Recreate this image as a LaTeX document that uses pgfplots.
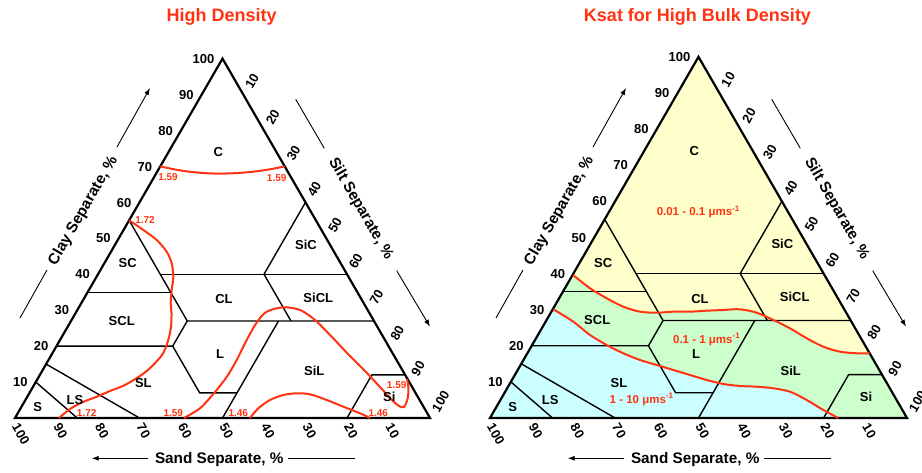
\documentclass[border=0pt]{standalone}
\usepackage{fontspec}
\setmainfont{Liberation Sans}
\usepackage{pgfplots}
\pgfplotsset{compat=1.18}
\usetikzlibrary{arrows.meta}
\definecolor{cred}{RGB}{255,51,17}
\definecolor{cyel}{RGB}{255,255,204}
\definecolor{cgrn}{RGB}{204,255,204}
\definecolor{ccya}{RGB}{204,255,255}
\pgfplotsset{
 /pgfplots/table/ternL/.style={x expr={15+4.15*(100-\thisrow{s}-0.5*\thisrow{c})},y expr={55+3.5940054*\thisrow{c}}},
 /pgfplots/table/ternR/.style={x expr={490+4.17*(100-\thisrow{s}-0.5*\thisrow{c})},y expr={55+3.6113259*\thisrow{c}}},
 /pgfplots/table/pxy/.style={y expr={473-\thisrow{y}}},
 bnd/.style={black,line width=1.4pt},
 outl/.style={black,line width=2.2pt,line join=miter},
 rc/.style={cred,line width=2pt,smooth},
}
\tikzset{
 num/.style={font=\fontsize{13}{15}\selectfont\bfseries,inner sep=0pt,text height=9.3pt,text depth=0pt},
 ttl/.style={font=\fontsize{15.3}{17}\selectfont\bfseries,inner sep=0pt,text height=11pt,text depth=0pt},
 rl/.style={font=\fontsize{10}{12}\selectfont\bfseries,text=cred,inner sep=0pt,text height=7.2pt,text depth=0pt},
 kl/.style={font=\fontsize{11.5}{13}\selectfont\bfseries,text=cred,inner sep=0pt,text height=8.3pt,text depth=0pt},
}
\newcommand{\soilclasses}[1]{%
\addplot[bnd] table[#1,row sep=\\]{s c\\90 10\\85 0\\};
\addplot[bnd] table[#1,row sep=\\]{s c\\85 15\\70 0\\};
\addplot[bnd] table[#1,row sep=\\]{s c\\80 20\\52 20\\52 7\\43 7\\};
\addplot[bnd] table[#1,row sep=\\]{s c\\50 0\\23 27\\};
\addplot[bnd] table[#1,row sep=\\]{s c\\52 20\\45 27\\0 27\\};
\addplot[bnd] table[#1,row sep=\\]{s c\\45 27\\45 55\\};
\addplot[bnd] table[#1,row sep=\\]{s c\\65 35\\45 35\\};
\addplot[bnd] table[#1,row sep=\\]{s c\\45 40\\0 40\\};
\addplot[bnd] table[#1,row sep=\\]{s c\\20 27\\20 40\\0 60\\};
\addplot[bnd] table[#1,row sep=\\]{s c\\20 0\\8 12\\0 12\\};
\addplot[outl] table[#1,row sep=\\]{s c\\100 0\\0 0\\0 100\\100 0\\0 0\\};
}
\newcommand{\decor}[2]{%
\foreach \p in {10,20,...,100}{
 \node[num,anchor=east] at ({#1+#2*\p/2-8},{55+#2*0.8660254*\p}) {\p};
 \node[num,anchor=west,rotate=60] at ({#1+#2*(50+\p/2)+5},{55+#2*0.8660254*(100-\p)+7}) {\p};
 \node[num,anchor=west,rotate=-60] at ({#1+#2*(100-\p)+0.5},{48.5}) {\p};
}
\foreach \t/\u/\v in {C/48.99/64.17,SC/27.16/37.28,SCL/25.71/23.45,CL/50.36/28.67,SiC/70.12/41.69,SiCL/73.08/28.99,L/49.40/15.42,SiL/72.12/11.40,SL/30.92/8.51,LS/14.46/4.34,S/5.47/2.58,Si/90.19/5.13}{
 \node[num] at ({#1+#2*\u},{55+#2*\v}) {\t};
}
}
\newcommand{\axtitles}{%
\node[ttl,rotate=60] at (82,263) {Clay Separate, \%};
\draw[line width=0.9pt] (20,155) -- (47,203);
\draw[line width=0.9pt,-{Latex[length=7pt,width=5pt]}] (117,326) -- (150,385);
\node[ttl,rotate=-60] at (362,265) {Silt Separate, \%};
\draw[line width=0.9pt] (295.7,373.7) -- (324.3,324.7);
\draw[line width=0.9pt,-{Latex[length=7pt,width=5pt]}] (396.7,202.3) -- (430,146.3);
\node[ttl] at (219.2,14.7) {Sand Separate, \%};
\draw[line width=0.9pt,-{Latex[length=7pt,width=5pt]}] (148.3,14.7) -- (91.7,14.7);
\draw[line width=0.9pt] (288.3,14.7) -- (355,14.7);
}
\begin{document}
\begin{tikzpicture}[x=1pt,y=1pt]
\useasboundingbox (0,0) rectangle (922,473);
\begin{axis}[x=1pt,y=1pt,xmin=0,xmax=922,ymin=0,ymax=473,hide axis,clip=false]
% right chart fills
\addplot[fill=ccya,draw=none] table[ternR,row sep=\\]{s c\\100 0\\0 0\\0 100\\};
\addplot[fill=cgrn,draw=none] table[pxy,row sep=\\]{x y\\553.3 309.3\\573.3 321.7\\590 335\\606.7 345\\623.3 353.3\\640 360\\656.7 365\\673.3 370\\690 375\\706.7 380\\723.3 384\\740 386\\756.7 386.7\\773.3 388.3\\790 391.7\\806.7 400\\823.3 410\\838.3 418\\907 418\\698.5 57\\};
\addplot[fill=cyel,draw=none] table[pxy,row sep=\\]{x y\\573 275\\590 288.3\\606.7 298.3\\623.3 306.7\\640 311.7\\656.7 312.7\\673.3 311.7\\690 311.7\\706.7 310.7\\723.3 310\\740 309.3\\756.7 312.7\\773.3 320\\790 328.3\\806.7 338.3\\823.3 346.7\\840 351.7\\856.7 353.3\\869.5 353.5\\698.5 57\\};
\soilclasses{ternL}
\soilclasses{ternR}
% left chart bulk density contours
\addplot[rc] table[pxy,row sep=\\]{x y\\160.3 166.4\\175 169.5\\190 171.8\\206 173.2\\222 173.6\\238 173\\255 171.5\\270 169.3\\284.7 166.4\\};
\addplot[rc] table[pxy,row sep=\\]{x y\\129.1 220.3\\143.3 230\\156.7 240\\166.7 251.7\\171.7 263.3\\173.3 276.7\\171.7 290\\170.7 303.3\\171.5 313.3\\171 326.7\\168.3 340\\163.3 353\\157 361\\149 369\\140 376\\125 385\\110 391\\96 397\\83 402\\70 409\\59 418\\};
\addplot[rc] table[pxy,row sep=\\]{x y\\184 418\\200 408.3\\213.3 394\\226.7 377\\236.7 360\\246.7 340\\256.7 322.5\\266.7 311.7\\283.3 307.3\\300 310\\315 320\\331 336\\348 354\\365 371\\380 387\\392 400\\399 406\\404 407\\407.5 399\\408.5 389\\407 379\\};
\addplot[rc] table[pxy,row sep=\\]{x y\\250 418\\258.3 408.3\\270 400\\283.3 395\\296.7 393.3\\310 394.3\\326.7 400\\343.3 406.7\\360 413.3\\370 418\\};
% right chart Ksat boundaries
\addplot[rc] table[pxy,row sep=\\]{x y\\573 275\\590 288.3\\606.7 298.3\\623.3 306.7\\640 311.7\\656.7 312.7\\673.3 311.7\\690 311.7\\706.7 310.7\\723.3 310\\740 309.3\\756.7 312.7\\773.3 320\\790 328.3\\806.7 338.3\\823.3 346.7\\840 351.7\\856.7 353.3\\869.5 353.5\\};
\addplot[rc] table[pxy,row sep=\\]{x y\\553.3 309.3\\573.3 321.7\\590 335\\606.7 345\\623.3 353.3\\640 360\\656.7 365\\673.3 370\\690 375\\706.7 380\\723.3 384\\740 386\\756.7 386.7\\773.3 388.3\\790 391.7\\806.7 400\\823.3 410\\838.3 418\\};
\end{axis}
\node[font=\fontsize{18}{20}\selectfont\bfseries,text=cred,anchor=base,inner sep=0pt] at (221.7,451.3) {High Density};
\node[font=\fontsize{18}{20}\selectfont\bfseries,text=cred,anchor=base,inner sep=0pt] at (697.5,451.3) {Ksat for High Bulk Density};
\decor{15}{4.15}
\decor{490}{4.17}
\axtitles
\begin{scope}[shift={(476,0)}]
\axtitles
\end{scope}
% contour labels
\node[rl] at (168,296.3) {1.59};
\node[rl] at (276.7,294.7) {1.59};
\node[rl] at (145,253) {1.72};
\node[rl] at (86.7,60.3) {1.72};
\node[rl] at (173.3,59.7) {1.59};
\node[rl] at (238.3,59.7) {1.46};
\node[rl] at (378.3,59.7) {1.46};
\node[rl] at (396.7,88) {1.59};
\node[kl] at (698.3,261.3) {0.01 - 0.1 μms\textsuperscript{-1}};
\node[kl] at (706.7,134) {0.1 - 1 μms\textsuperscript{-1}};
\node[kl] at (641.7,74) {1 - 10 μms\textsuperscript{-1}};
\end{tikzpicture}
\end{document}
